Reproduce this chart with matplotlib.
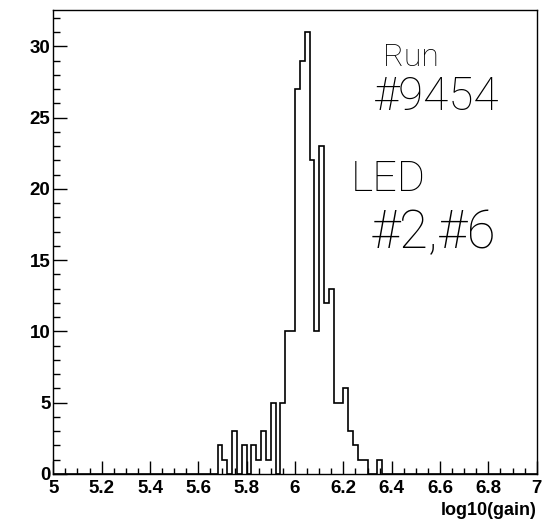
import numpy as np
import matplotlib
matplotlib.use('Agg')
import matplotlib.pyplot as plt
from matplotlib.ticker import MultipleLocator, FuncFormatter

# ---- data (histogram of log10(gain), 100 bins from 5 to 7) ----
x_min, x_max, n_bins = 5.0, 7.0, 100
filled_bin_lows = [5.68, 5.70, 5.74, 5.78, 5.82, 5.84, 5.86, 5.88, 5.90, 5.94,
                   5.96, 5.98, 6.00, 6.02, 6.04, 6.06, 6.08, 6.10, 6.12, 6.14,
                   6.16, 6.18, 6.20, 6.22, 6.24, 6.26, 6.28, 6.34]
filled_counts = [2, 1, 3, 2, 2, 1, 3, 1, 5, 5,
                 10, 10, 27, 29, 31, 22, 10, 23, 12, 13,
                 5, 5, 6, 3, 2, 1, 1, 1]
x_title = "log10(gain)"
note_run = ["Run", "#9454"]
note_led = ["LED", "#2,#6"]

edges = np.linspace(x_min, x_max, n_bins + 1)
counts = np.zeros(n_bins)
for lo, c in zip(filled_bin_lows, filled_counts):
    idx = int(round((lo - x_min) / (edges[1] - edges[0])))
    counts[idx] = c

fig = plt.figure(figsize=(5.54, 5.23), dpi=100)
W, H = 554, 523
left, right, top, bottom = 53.3, 536.7, 10, 474
ax = fig.add_axes([left / W, 1 - bottom / H, (right - left) / W, (bottom - top) / H])

ax.stairs(counts, edges, color='black', lw=1.2, baseline=0)
ax.set_xlim(x_min, x_max)
ax.set_ylim(0, 1.05 * max(filled_counts))

for s in ax.spines.values():
    s.set_linewidth(1.0)
    s.set_color('black')

lab_font = dict(family='Liberation Sans', weight='bold', size=13.5)
ax.xaxis.set_major_locator(MultipleLocator(0.2))
ax.xaxis.set_minor_locator(MultipleLocator(0.05))
ax.yaxis.set_major_locator(MultipleLocator(5))
ax.yaxis.set_minor_locator(MultipleLocator(1))
ax.xaxis.set_major_formatter(FuncFormatter(lambda v, p: f"{v:g}"))
ax.yaxis.set_major_formatter(FuncFormatter(lambda v, p: f"{v:g}"))
ax.tick_params(axis='x', which='major', direction='in', length=9.4, width=1.0, pad=4,
               top=False)
ax.tick_params(axis='x', which='minor', direction='in', length=4.3, width=1.0, top=False)
ax.tick_params(axis='y', which='major', direction='in', length=10.4, width=1.0, pad=2,
               right=False)
ax.tick_params(axis='y', which='minor', direction='in', length=5.0, width=1.0, right=False)
for lbl in ax.get_xticklabels() + ax.get_yticklabels():
    lbl.set_fontfamily(lab_font['family'])
    lbl.set_fontweight(lab_font['weight'])
    lbl.set_fontsize(lab_font['size'])

ax.set_xlabel(x_title, fontfamily='Liberation Sans', fontweight='bold', fontsize=13,
              ha='right', va='center')
ax.xaxis.set_label_coords(1.0, -0.079)

hand = dict(family='Roboto', weight='light', color='black', ha='center', va='center')
fig.text(411 / W, 1 - 57 / H, note_run[0], fontsize=23, **hand)
fig.text(437 / W, 1 - 97 / H, note_run[1], fontsize=33, **hand)
fig.text(388 / W, 1 - 179 / H, note_led[0], fontsize=31, **hand)
fig.text(433 / W, 1 - 233 / H, note_led[1], fontsize=38, **hand)

fig.savefig('out.png', dpi=100)
